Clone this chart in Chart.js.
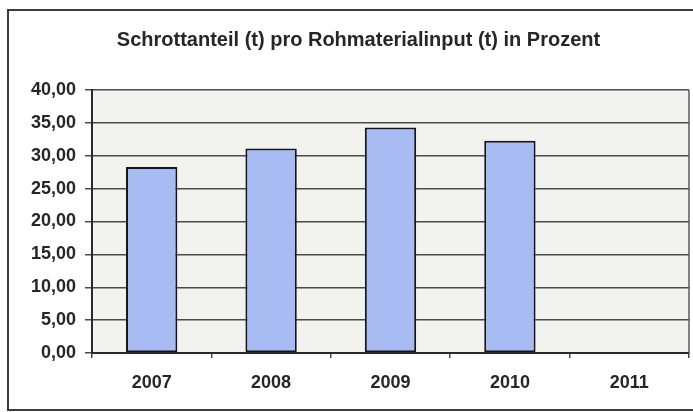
<!DOCTYPE html>
<html lang="de">
<head>
<meta charset="utf-8">
<title>Schrottanteil</title>
<script src="https://cdn.jsdelivr.net/npm/chart.js@4.4.1/dist/chart.umd.min.js"></script>
<style>
    html, body { margin: 0; padding: 0; background: #ffffff; }
    #wrap { width: 693px; height: 412px; position: relative; }
</style>
</head>
<body>
<div id="wrap"><canvas id="scrapChart"></canvas></div>
<script>
// Jahre und Schrottanteil in Prozent
const years = ['2007', '2008', '2009', '2010', '2011'];
const scrapShare = [28.3, 31.1, 34.3, 32.3, null];

// y-Achse 0,00 … 40,00 in Fünferschritten
const yMin = 0;
const yMax = 40;
const yStep = 5;

const chartTitle = 'Schrottanteil (t) pro Rohmaterialinput (t) in Prozent';

const textColor = '#262626';
const gridColor = '#4a4a4a';
const fontFamily = '"Liberation Sans", Arial, sans-serif';

/**
 * Hintergrund der Zeichenfläche, rechter Rand und äußerer Rahmen
 */
const framePlugin = {
    id: 'frame',
    beforeDraw(chart) {
        const { ctx, chartArea: a } = chart;
        ctx.save();
        ctx.fillStyle = '#f2f2ef';
        ctx.fillRect(a.left, a.top, a.right - a.left, a.bottom - a.top);
        ctx.restore();
    },
    afterDraw(chart) {
        const { ctx, chartArea: a } = chart;
        ctx.save();
        // rechter Rand der Zeichenfläche
        ctx.strokeStyle = '#5a5a5a';
        ctx.lineWidth = 1.5;
        ctx.beginPath();
        ctx.moveTo(a.right, a.top);
        ctx.lineTo(a.right, a.bottom);
        ctx.stroke();
        // Diagrammrahmen
        ctx.strokeStyle = '#3a3a3a';
        ctx.lineWidth = 2;
        ctx.strokeRect(8, 10, 720, 400);
        ctx.restore();
    }
};

const ctx = document.getElementById('scrapChart').getContext('2d');
new Chart(ctx, {
    type: 'bar',
    data: {
        labels: years,
        datasets: [{
            label: 'Schrottanteil',
            data: scrapShare,
            backgroundColor: '#a9bbf3',
            borderColor: '#15151f',
            borderWidth: 2,
            borderSkipped: false,
            barPercentage: 0.43,
            categoryPercentage: 1.0
        }]
    },
    options: {
        responsive: true,
        maintainAspectRatio: false,
        animation: false,
        layout: {
            padding: { top: 10, right: 4, bottom: 0, left: 28 }
        },
        plugins: {
            legend: { display: false },
            tooltip: { enabled: false },
            title: {
                display: true,
                text: chartTitle,
                color: textColor,
                font: { family: fontFamily, size: 20, weight: 'bold' },
                padding: { top: 18, bottom: 38 }
            }
        },
        scales: {
            x: {
                offset: true,
                grid: {
                    offset: true,
                    drawOnChartArea: false,
                    drawTicks: true,
                    tickLength: 5,
                    color: gridColor,
                    lineWidth: 1.5
                },
                border: { display: true, color: '#2a2a2a', width: 2 },
                ticks: {
                    color: textColor,
                    font: { family: fontFamily, size: 18, weight: 'bold' },
                    padding: 14,
                    maxRotation: 0
                },
                afterFit(scale) {
                    scale.height = 59;
                }
            },
            y: {
                min: yMin,
                max: yMax,
                ticks: {
                    stepSize: yStep,
                    color: textColor,
                    font: { family: fontFamily, size: 18, weight: 'bold' },
                    padding: 9,
                    callback: (v) => v.toFixed(2).replace('.', ',')
                },
                grid: {
                    color: gridColor,
                    lineWidth: 1.5,
                    drawTicks: true,
                    tickLength: 7
                },
                border: { display: true, color: '#2a2a2a', width: 2 },
                afterFit(scale) {
                    scale.width = 64;
                }
            }
        }
    },
    plugins: [framePlugin]
});
</script>
</body>
</html>
